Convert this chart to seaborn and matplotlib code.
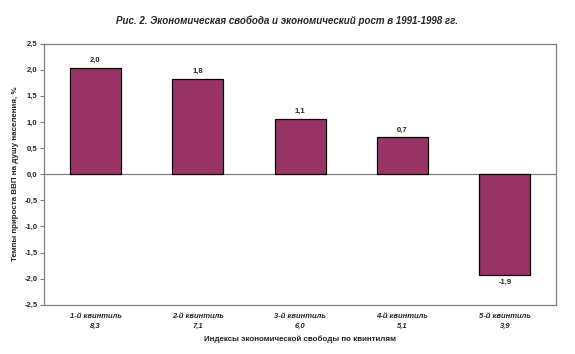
import pandas as pd
import seaborn as sns
import matplotlib.pyplot as plt
import numpy as np

# данные
quintiles = ["1-й квинтиль", "2-й квинтиль", "3-й квинтиль", "4-й квинтиль", "5-й квинтиль"]
freedom_index = ["8,3", "7,1", "6,0", "5,1", "3,9"]
gdp_growth = [2.04, 1.83, 1.06, 0.71, -1.93]
y_ticks = np.arange(-2.5, 2.51, 0.5)

df = pd.DataFrame({"квинтиль": quintiles, "рост": gdp_growth})

sns.set_style("white")
plt.rcParams['font.family'] = ['Liberation Sans', 'DejaVu Sans']

fig, ax = plt.subplots(figsize=(5.75, 3.54), dpi=100)
fig.subplots_adjust(left=0.077, right=0.967, top=0.877, bottom=0.139)

sns.barplot(data=df, x="квинтиль", y="рост", color="#993366", width=0.5,
            edgecolor="black", linewidth=0.9, saturation=1, ax=ax)

ax.axhline(0, color="#808080", linewidth=0.9, zorder=0)

# подписи значений
for i, v in enumerate(gdp_growth):
    label = f"{v:.1f}".replace(".", ",")
    if v >= 0:
        ax.text(i, v + 0.07, label, ha="center", va="bottom", fontsize=5.5, fontweight="bold")
    else:
        ax.text(i, v - 0.07, label, ha="center", va="top", fontsize=5.5, fontweight="bold")

ax.set_ylim(-2.5, 2.5)
ax.set_xlim(-0.5, 4.5)
ax.set_yticks(y_ticks)
ax.set_yticklabels([f"{t:.1f}".replace(".", ",") for t in y_ticks], fontsize=5.5, fontweight="bold")
ax.set_xticks(range(len(quintiles)))
ax.set_xticklabels([f"{q}\n{f}" for q, f in zip(quintiles, freedom_index)],
                   fontsize=5.5, fontweight="bold", style="italic", linespacing=1.5)
ax.tick_params(axis="y", length=3, width=0.8, color="#808080", left=True, pad=2)
ax.tick_params(axis="x", length=0, pad=6)

for s in ax.spines.values():
    s.set_color("#808080")
    s.set_linewidth(0.9)

ax.set_xlabel("Индексы экономической свободы по квинтилям", fontsize=5.8, fontweight="bold", labelpad=4)
ax.set_ylabel("Темпы прироста ВВП на душу населения, %", fontsize=5.8, fontweight="bold", labelpad=4)

fig.suptitle("Рис. 2. Экономическая свобода и экономический рост в 1991-1998 гг.",
             fontsize=7, fontweight="bold", style="italic", y=0.955)

plt.savefig("out.png", dpi=100)
